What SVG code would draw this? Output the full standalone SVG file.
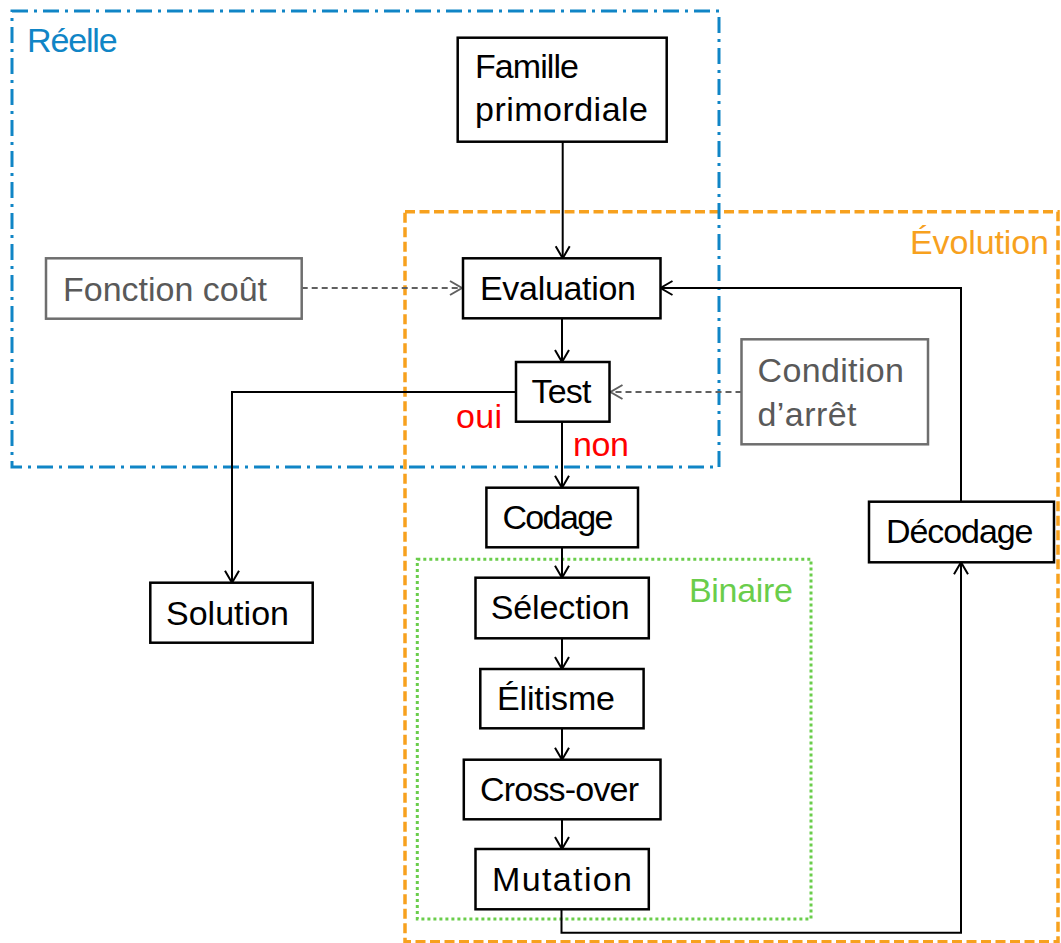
<svg xmlns="http://www.w3.org/2000/svg" width="1061" height="943" viewBox="0 0 1061 943">
<style>
text{font-family:"Liberation Sans",Arial,sans-serif;font-size:34px;fill:#000}
.box{fill:#fff;stroke:#000;stroke-width:2.5}
.gbox{fill:#fff;stroke:#6e6e6e;stroke-width:2.5}
.gtxt{fill:#595959}
.blue{fill:none;stroke:#1085c6;stroke-width:3;stroke-dasharray:16 6 3 6}
.orange{fill:none;stroke:#f7a11e;stroke-width:3.5;stroke-dasharray:10 4.5}
.green{fill:none;stroke:#6acd4b;stroke-width:3;stroke-dasharray:3 3}
.conn{fill:none;stroke:#000;stroke-width:2;marker-end:url(#arr)}
.plain{fill:none;stroke:#000;stroke-width:2}
.dash{fill:none;stroke:#606060;stroke-width:2;stroke-dasharray:6 4;marker-end:url(#arrg)}
.red{fill:#ff0000}
</style>
<defs>
<marker id="arr" markerUnits="userSpaceOnUse" markerWidth="20" markerHeight="20" viewBox="-14 -10 16 20" refX="0" refY="0" orient="auto">
<path d="M-12,-7 L0,0 L-12,7" fill="none" stroke="#000" stroke-width="2"/>
</marker>
<marker id="arrg" markerUnits="userSpaceOnUse" markerWidth="20" markerHeight="20" viewBox="-14 -10 16 20" refX="0" refY="0" orient="auto">
<path d="M-12,-7 L0,0 L-12,7" fill="none" stroke="#606060" stroke-width="2"/>
</marker>
</defs>
<rect width="1061" height="943" fill="#fff"/>

<g id="groups">
<rect class="orange" x="405" y="211.7" width="653" height="730"/>
<rect class="blue" x="12" y="11" width="707" height="456"/>
<rect class="green" x="417.3" y="559.3" width="393.7" height="359.7"/>
<text x="27" y="52" fill="#1085c6" style="fill:#1085c6" textLength="90.7">Réelle</text>
<text x="910" y="254" style="fill:#f7a11e" textLength="139">Évolution</text>
<text x="689" y="602" style="fill:#6acd4b" textLength="104">Binaire</text>
</g>

<g id="connectors">
<path class="conn" d="M562.7,141.7 V258.3"/>
<path class="dash" d="M301.7,288 H462"/>
<path class="conn" d="M562,318.3 V362"/>
<path class="dash" d="M741.5,392 H610.5"/>
<path class="conn" d="M516,392 H232 V582.7"/>
<path class="conn" d="M562,421.7 V487.7"/>
<path class="conn" d="M562,547.3 V577.7"/>
<path class="conn" d="M562,638.3 V669"/>
<path class="conn" d="M562,728.3 V759.7"/>
<path class="conn" d="M562,819.3 V849"/>
<path class="conn" d="M561.5,909.3 V932.7 H961 V562.3"/>
<path class="conn" d="M961,501.7 V288 H660.5"/>
<text class="red" x="456" y="428" textLength="46">oui</text>
<text class="red" x="573" y="456" textLength="56">non</text>
</g>

<g id="famille">
<rect class="box" x="457.7" y="37.7" width="209" height="104"/>
<text x="475" y="78.3" textLength="104">Famille</text>
<text x="475" y="121" textLength="173">primordiale</text>
</g>
<g id="fonction">
<rect class="gbox" x="46" y="258.3" width="255.7" height="60.4"/>
<text class="gtxt" x="63" y="300.7" textLength="204">Fonction coût</text>
</g>
<g id="evaluation">
<rect class="box" x="463" y="258.3" width="197.5" height="60"/>
<text x="480" y="300" textLength="156">Evaluation</text>
</g>
<g id="test">
<rect class="box" x="516" y="362" width="93.5" height="59.7"/>
<text x="531.5" y="403" textLength="60">Test</text>
</g>
<g id="condition">
<rect class="gbox" x="741.5" y="339.3" width="186.5" height="105"/>
<text class="gtxt" x="757.5" y="381.7" textLength="146.5">Condition</text>
<text class="gtxt" x="757.5" y="426" textLength="99">d’arrêt</text>
</g>
<g id="solution">
<rect class="box" x="150.3" y="582.7" width="162.4" height="60"/>
<text x="166" y="625" textLength="123">Solution</text>
</g>
<g id="codage">
<rect class="box" x="486.4" y="487.7" width="151.6" height="59.6"/>
<text x="502.4" y="529.3" textLength="111">Codage</text>
</g>
<g id="selection">
<rect class="box" x="475.5" y="577.7" width="173.3" height="60.6"/>
<text x="490.7" y="619.3" textLength="139">Sélection</text>
</g>
<g id="elitisme">
<rect class="box" x="480.3" y="669" width="163.3" height="59.3"/>
<text x="497" y="710" textLength="118">Élitisme</text>
</g>
<g id="crossover">
<rect class="box" x="463.8" y="759.7" width="196.7" height="59.6"/>
<text x="480" y="801" textLength="159">Cross-over</text>
</g>
<g id="mutation">
<rect class="box" x="475.5" y="849" width="173.3" height="60.3"/>
<text x="492" y="890.7" textLength="140">Mutation</text>
</g>
<g id="decodage">
<rect class="box" x="869" y="501.7" width="185" height="60.6"/>
<text x="886" y="543.3" textLength="147.5">Décodage</text>
</g>
</svg>
